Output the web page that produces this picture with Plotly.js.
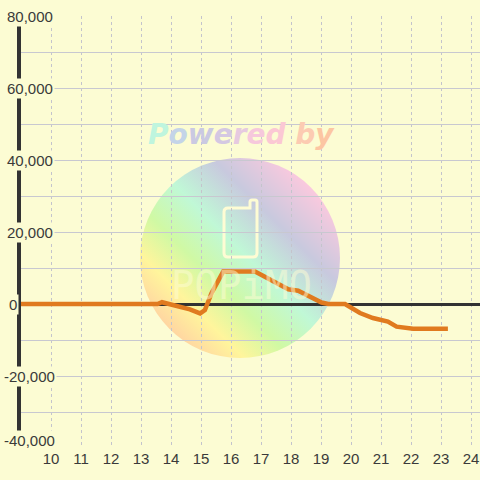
<!DOCTYPE html>
<html><head><meta charset="utf-8">
<script src="https://cdn.plot.ly/plotly-3.0.1.min.js"></script>
<style>html,body{margin:0;padding:0;background:#FCFCD3;}</style>
</head><body><div id="chart" style="width:480px;height:480px;"></div>
<script>
// ---- data ----
const hours  = [9, 13.55, 13.7, 14.13, 14.63, 14.97, 15.13, 15.35, 15.74, 16.8, 17.24, 17.91, 18.24, 19.02, 19.24, 19.8, 20.3, 20.73, 21.23, 21.52, 22.07, 23.23];
const values = [0, 0, 500, -300, -1500, -2600, -1700, 3000, 9000, 9000, 7100, 4100, 3700, 400, 0, 0, -2500, -3900, -4900, -6300, -6900, -6900];
const xTickVals = [10, 11, 12, 13, 14, 15, 16, 17, 18, 19, 20, 21, 22, 23, 24];
const yTickVals = [-40000, -20000, 0, 20000, 40000, 60000, 80000];
const watermarkTitle = ["P","o","w","e","r","e","d"," ","b","y"];
const watermarkColors = ["#BFF5DE","#C4D4E8","#CAC9E2","#D4C8E2","#E6CAE0","#F6C8DC","#FBC8D4","#FCCBC0","#FCCBB2","#FCC6A2"];
const logoText = "POPiMO";

// ---- layout constants (pixels) ----
const W = 480, H = 480, ML = 21, MR = 0, MT = 16, MB = 32;
const PW = W - ML - MR, PH = H - MT - MB;
const BG = "#FCFCD3";
const TXT = "#3A3A3A";
const FONT = "Liberation Sans, Arial, sans-serif";
const px2paperX = p => (p - ML) / PW;
const px2paperY = p => (H - MB - p) / PH;

const svg = `<svg xmlns="http://www.w3.org/2000/svg" width="${PW}" height="${PH}" viewBox="0 0 ${PW} ${PH}">
<defs><linearGradient id="g" x1="0" y1="1" x2="1" y2="0">
<stop offset="0" stop-color="#FFC4A4"/>
<stop offset="0.1" stop-color="#FFC9A4"/>
<stop offset="0.26" stop-color="#FFF59C"/>
<stop offset="0.38" stop-color="#D0F9A4"/>
<stop offset="0.52" stop-color="#C0F8D6"/>
<stop offset="0.68" stop-color="#C8C9DE"/>
<stop offset="0.86" stop-color="#FCC9DE"/>
<stop offset="1" stop-color="#FDCBDA"/>
</linearGradient></defs>
<circle cx="219" cy="242" r="100" fill="url(#g)"/>
<path d="M 207 192 L 229 192 L 229 186 Q 229 184 231 184 L 234 184 Q 236 184 236 186 L 236 237 Q 236 241 232 241 L 207 241 Q 203 241 203 237 L 203 196 Q 203 192 207 192 Z" fill="none" stroke="#FEFCD4" stroke-width="3"/>
</svg>`;

const titleHtml = watermarkTitle.map((c, i) => `<span style="color:${watermarkColors[i]}">${c}</span>`).join("");

const annotations = yTickVals.map(v => ({
  xref: "paper", yref: "y",
  x: px2paperX(v < 0 ? 2 : (v === 0 ? 7 : 5)),
  y: v,
  xanchor: "left",
  yanchor: v === yTickVals[0] ? "bottom" : "middle",
  yshift: v === yTickVals[0] ? -3 : 0,
  text: v.toLocaleString("en-US"),
  showarrow: false,
  font: {family: FONT, size: 15, color: TXT},
  bgcolor: BG,
  borderpad: 1
}));

annotations.unshift({
  xref: "paper", yref: "paper",
  x: px2paperX(241.5), y: px2paperY(135),
  xanchor: "center", yanchor: "middle",
  text: "<b><i>" + titleHtml + "</i></b>",
  showarrow: false,
  font: {family: "DejaVu Sans, sans-serif", size: 28}
}, {
  xref: "paper", yref: "paper",
  x: px2paperX(241), y: px2paperY(285),
  xanchor: "center", yanchor: "middle",
  text: logoText,
  showarrow: false,
  font: {family: "DejaVu Sans Mono, monospace", size: 39, color: "rgba(254,252,212,0.5)"}
});

const trace = {
  x: hours, y: values,
  type: "scatter", mode: "lines",
  line: {color: "#E07A1F", width: 4.5},
  hoverinfo: "skip"
};

const layout = {
  width: W, height: H,
  margin: {l: ML, r: MR, t: MT, b: MB, pad: 0},
  paper_bgcolor: BG,
  plot_bgcolor: "rgba(0,0,0,0)",
  showlegend: false,
  xaxis: {
    range: [9, 9 + PW / 30],
    tickvals: xTickVals,
    ticktext: xTickVals.map(String),
    showgrid: true, gridcolor: "#C4C4CC", gridwidth: 1, griddash: "3px,3px",
    zeroline: false, showline: false, ticks: "",
    tickfont: {family: FONT, size: 15, color: TXT},
    fixedrange: true
  },
  yaxis: {
    range: [-40000, 80000],
    dtick: 10000, tick0: 0,
    showticklabels: false,
    showgrid: true, gridcolor: "#C8C8D0", gridwidth: 1,
    zeroline: true, zerolinecolor: "#333333", zerolinewidth: 3,
    showline: true, linecolor: "#333333", linewidth: 4,
    ticks: "",
    fixedrange: true
  },
  images: [{
    source: "data:image/svg+xml;charset=utf-8," + encodeURIComponent(svg),
    xref: "paper", yref: "paper",
    x: 0, y: 1, sizex: 1, sizey: 1,
    xanchor: "left", yanchor: "top",
    sizing: "stretch", layer: "below"
  }],
  annotations: annotations
};

Plotly.newPlot("chart", [trace], layout, {displayModeBar: false, staticPlot: true});
</script>
</body></html>
